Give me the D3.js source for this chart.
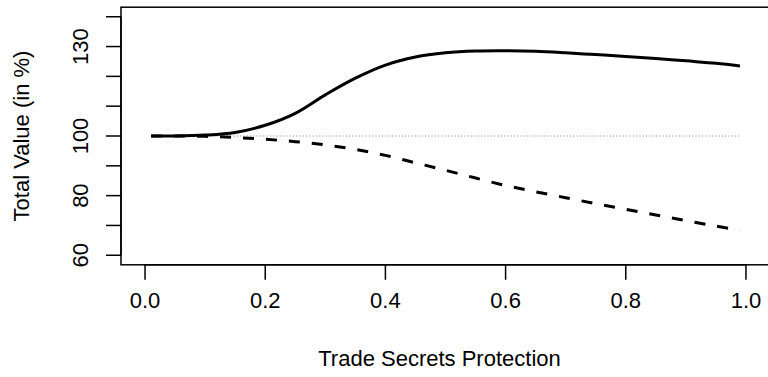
<!DOCTYPE html>
<html>
<head>
<meta charset="utf-8">
<script src="https://cdn.jsdelivr.net/npm/d3@7"></script>
<style>
  body { margin: 0; background: #fff; }
  text { font-family: "Liberation Sans", Arial, sans-serif; fill: #000; }
</style>
</head>
<body>
<script>
var protection = [0.01, 0.05, 0.1, 0.15, 0.2, 0.25, 0.3, 0.35, 0.4, 0.45, 0.5,
                  0.55, 0.6, 0.65, 0.7, 0.75, 0.8, 0.85, 0.9, 0.95, 0.99];
var solidValues = [100, 100, 100.3, 101.2, 103.6, 107.6, 113.8, 119.4, 123.8, 126.5, 127.9,
                   128.5, 128.6, 128.4, 127.9, 127.3, 126.7, 126.0, 125.2, 124.4, 123.5];
var dashedValues = [100, 100, 99.9, 99.5, 98.9, 98.1, 97.0, 95.5, 93.5, 91.0, 88.5,
                    85.9, 83.4, 81.3, 79.3, 77.3, 75.4, 73.5, 71.6, 69.8, 68.3];
var baseline = 100;
var xTicks = [0, 0.2, 0.4, 0.6, 0.8, 1.0];
var yTicks = [60, 70, 80, 90, 100, 110, 120, 130, 140];
var yLabels = [60, 80, 100, 130];

var width = 768,
    height = 377,
    fontSize = 22,
    tickLen = 15;

var svg = d3.select("body")
    .append("svg")
    .attr("width", width)
    .attr("height", height);

// plot region (R pads the limits by 4%)
var x = d3.scaleLinear().domain([-0.04, 1.04]).range([121, 770]);
var y = d3.scaleLinear().domain([56.8, 143.2]).range([264.8, 7.2]);

svg.append("rect")
    .attr("x", x(-0.04))
    .attr("y", y(143.2))
    .attr("width", x(1.04) - x(-0.04))
    .attr("height", y(56.8) - y(143.2))
    .attr("fill", "none")
    .attr("stroke", "#000")
    .attr("stroke-width", 1.5);

// x axis
var xAxis = svg.append("g");
xAxis.append("line")
    .attr("x1", x(0)).attr("x2", x(1))
    .attr("y1", y(56.8)).attr("y2", y(56.8))
    .attr("stroke", "#000").attr("stroke-width", 1.5);
xAxis.selectAll("line.tick")
    .data(xTicks)
    .join("line")
    .attr("class", "tick")
    .attr("x1", d => x(d)).attr("x2", d => x(d))
    .attr("y1", y(56.8)).attr("y2", y(56.8) + tickLen)
    .attr("stroke", "#000").attr("stroke-width", 1.5);
xAxis.selectAll("text")
    .data(xTicks)
    .join("text")
    .attr("x", d => x(d))
    .attr("y", 308)
    .attr("text-anchor", "middle")
    .style("font-size", fontSize + "px")
    .text(d => d3.format(".1f")(d));

// y axis
var yAxis = svg.append("g");
yAxis.append("line")
    .attr("x1", x(-0.04)).attr("x2", x(-0.04))
    .attr("y1", y(60)).attr("y2", y(140))
    .attr("stroke", "#000").attr("stroke-width", 1.5);
yAxis.selectAll("line.tick")
    .data(yTicks)
    .join("line")
    .attr("class", "tick")
    .attr("x1", x(-0.04) - tickLen).attr("x2", x(-0.04))
    .attr("y1", d => y(d)).attr("y2", d => y(d))
    .attr("stroke", "#000").attr("stroke-width", 1.5);
yAxis.selectAll("text")
    .data(yLabels)
    .join("text")
    .attr("transform", d => "translate(88," + y(d) + ") rotate(-90)")
    .attr("text-anchor", "middle")
    .style("font-size", fontSize + "px")
    .text(d => d);

// axis titles
svg.append("text")
    .attr("x", (x(-0.04) + x(1.04)) / 2 - 6)
    .attr("y", 366)
    .attr("text-anchor", "middle")
    .style("font-size", fontSize + "px")
    .text("Trade Secrets Protection");

svg.append("text")
    .attr("transform", "translate(29," + y(100) + ") rotate(-90)")
    .attr("text-anchor", "middle")
    .style("font-size", fontSize + "px")
    .text("Total Value (in %)");

// reference line at 100
svg.append("line")
    .attr("x1", x(protection[0]))
    .attr("x2", x(protection[protection.length - 1]))
    .attr("y1", y(baseline)).attr("y2", y(baseline))
    .attr("stroke", "#808080")
    .attr("stroke-width", 1)
    .attr("stroke-dasharray", "1,2.3");

var line = d3.line()
    .x((d, i) => x(protection[i]))
    .y(d => y(d))
    .curve(d3.curveCatmullRom);

svg.append("path")
    .datum(dashedValues)
    .attr("d", line)
    .attr("fill", "none")
    .attr("stroke", "#000")
    .attr("stroke-width", 3)
    .attr("stroke-dasharray", "11,12");

svg.append("path")
    .datum(solidValues)
    .attr("d", line)
    .attr("fill", "none")
    .attr("stroke", "#000")
    .attr("stroke-width", 3);
</script>
</body>
</html>
